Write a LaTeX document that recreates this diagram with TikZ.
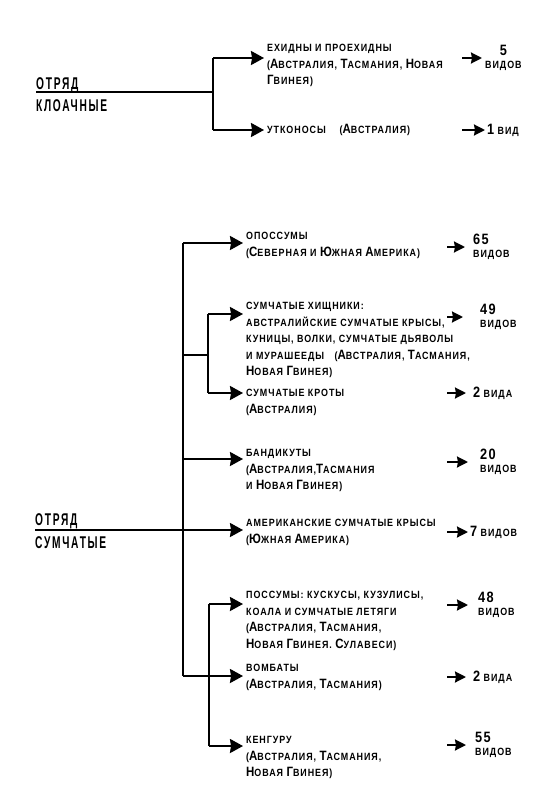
\documentclass[tikz,border=0pt]{standalone}
\usepackage{fontspec}
\setmainfont[FakeStretch=0.85,LetterSpace=9]{Liberation Sans}
\newfontfamily\ordfont[FakeStretch=0.6,LetterSpace=10]{Liberation Sans}
\usetikzlibrary{arrows.meta}

\newcommand\smc{\fontsize{10.5}{16.5}\selectfont\bfseries}
\newcommand\Bg[1]{{\fontsize{13.5}{16.5}\selectfont #1}}
\newcommand\Num[1]{{\fontsize{15}{16.5}\selectfont #1}}

\tikzset{
  ln/.style={line width=2pt},
  arr/.style={-{Stealth[length=13pt,width=14pt,inset=1pt]}, line width=2pt},
  sarr/.style={-{Stealth[length=11pt,width=11pt,inset=1pt]}, line width=2pt, shorten >=#1},
  sarr/.default=0pt,
  item/.style={anchor=north west, align=left, inner xsep=3pt, inner ysep=0pt, font=\smc},
  cnt/.style={anchor=west, align=left, inner sep=0pt, font=\smc},
  ord/.style={anchor=base west, inner sep=0pt, font=\ordfont\fontsize{17}{17}\selectfont\bfseries},
}

\begin{document}
\begin{tikzpicture}[x=1pt, y=-1pt]
  \useasboundingbox (0,0) rectangle (551,800);

  % order: monotremes
  \node[ord] (ok1) at (36,89)  {ОТРЯД};
  \node[ord] (ok2) at (36,111) {КЛОАЧНЫЕ};
  \coordinate (k0) at (36,92);
  \coordinate (k1) at (213,92);
  \coordinate (ka) at (213,58);
  \coordinate (kb) at (213,130);

  \node[item] (ech) at (264,44.2)
    {ЕХИДНЫ И ПРОЕХИДНЫ\\(\Bg{А}ВСТРАЛИЯ, \Bg{Т}АСМАНИЯ, \Bg{Н}ОВАЯ\\\Bg{Г}ВИНЕЯ)};
  \node[item, anchor=base west] (utk) at (264,133.5)
    {УТКОНОСЫ\quad\ (\Bg{А}ВСТРАЛИЯ)};

  \draw[ln] (k0) -- (k1);
  \draw[ln] (ka) -- (kb);
  \draw[arr] (ka) -- (ka -| ech.west);
  \draw[arr] (kb) -- (kb -| utk.west);

  \node[cnt, align=center] (c5) at (485,58) {\Num{5}\\[-3pt]ВИДОВ};
  \node[cnt] (c1) at (487,130) {\Num{1} ВИД};
  \coordinate (r5) at (462,58);
  \coordinate (r1) at (462,130);
  \draw[sarr=3pt] (r5) -- (r5 -| c5.west);
  \draw[sarr=2pt] (r1) -- (r1 -| c1.west);

  % order: marsupials
  \node[ord] (os1) at (35,525) {ОТРЯД};
  \node[ord] (os2) at (35,548) {СУМЧАТЫЕ};
  \coordinate (s0) at (35,530);
  \coordinate (m1) at (183,243);
  \coordinate (m2) at (183,355);
  \coordinate (m3) at (183,459);
  \coordinate (m5) at (183,676);
  \coordinate (u1) at (208,314);
  \coordinate (u2) at (208,393);
  \coordinate (l1) at (209,604);
  \coordinate (l2) at (209,746);

  \node[item] (opo)  at (243,232.2)
    {ОПОССУМЫ\\(\Bg{С}ЕВЕРНАЯ И \Bg{Ю}ЖНАЯ \Bg{А}МЕРИКА)};
  \node[item] (hish) at (243,302.2)
    {СУМЧАТЫЕ ХИЩНИКИ:\\АВСТРАЛИЙСКИЕ СУМЧАТЫЕ КРЫСЫ,\\КУНИЦЫ, ВОЛКИ, СУМЧАТЫЕ ДЬЯВОЛЫ\\И МУРАШЕЕДЫ\quad (\Bg{А}ВСТРАЛИЯ, \Bg{Т}АСМАНИЯ,\\\Bg{Н}ОВАЯ \Bg{Г}ВИНЕЯ)};
  \node[item] (krot) at (243,389.2)
    {СУМЧАТЫЕ КРОТЫ\\(\Bg{А}ВСТРАЛИЯ)};
  \node[item] (band) at (243,449.2)
    {БАНДИКУТЫ\\(\Bg{А}ВСТРАЛИЯ,\Bg{Т}АСМАНИЯ\\И \Bg{Н}ОВАЯ \Bg{Г}ВИНЕЯ)};
  \node[item] (amer) at (243,519.2)
    {АМЕРИКАНСКИЕ СУМЧАТЫЕ КРЫСЫ\\(\Bg{Ю}ЖНАЯ \Bg{А}МЕРИКА)};
  \node[item] (poss) at (243,591.2)
    {ПОССУМЫ: КУСКУСЫ, КУЗУЛИСЫ,\\КОАЛА И СУМЧАТЫЕ ЛЕТЯГИ\\(\Bg{А}ВСТРАЛИЯ, \Bg{Т}АСМАНИЯ,\\\Bg{Н}ОВАЯ \Bg{Г}ВИНЕЯ. \Bg{С}УЛАВЕСИ)};
  \node[item] (vomb) at (243,664.2)
    {ВОМБАТЫ\\(\Bg{А}ВСТРАЛИЯ, \Bg{Т}АСМАНИЯ)};
  \node[item] (keng) at (243,736.2)
    {КЕНГУРУ\\(\Bg{А}ВСТРАЛИЯ, \Bg{Т}АСМАНИЯ,\\\Bg{Н}ОВАЯ \Bg{Г}ВИНЕЯ)};

  \draw[ln] (m1) -- (m5);
  \draw[ln] (u1) -- (u2);
  \draw[ln] (m2) -- (m2 -| u1);
  \draw[ln] (l1) -- (l2);
  \draw[arr] (m1) -- (m1 -| opo.west);
  \draw[arr] (u1) -- (u1 -| hish.west);
  \draw[arr] (u2) -- (u2 -| krot.west);
  \draw[arr] (m3) -- (m3 -| band.west);
  \draw[arr] (s0) -- (s0 -| amer.west);
  \draw[arr] (l1) -- (l1 -| poss.west);
  \draw[arr] (m5) -- (m5 -| vomb.west);
  \draw[arr] (l2) -- (l2 -| keng.west);

  % number of species
  \node[cnt] (c65) at (473,247) {\Num{65}\\[-3pt]ВИДОВ};
  \node[cnt] (c49) at (480,317) {\Num{49}\\[-3pt]ВИДОВ};
  \node[cnt] (c2a) at (473,393) {\Num{2} ВИДА};
  \node[cnt] (c20) at (480,462) {\Num{20}\\[-3pt]ВИДОВ};
  \node[cnt] (c7)  at (470,532) {\Num{7} ВИДОВ};
  \node[cnt] (c48) at (478,605) {\Num{48}\\[-3pt]ВИДОВ};
  \node[cnt] (c2b) at (473,677) {\Num{2} ВИДА};
  \node[cnt] (c55) at (475,745) {\Num{55}\\[-3pt]ВИДОВ};
  \coordinate (r65) at (447,247);
  \coordinate (r49) at (447,317);
  \coordinate (r2a) at (447,393);
  \coordinate (r20) at (447,462);
  \coordinate (r7)  at (447,532);
  \coordinate (r48) at (447,605);
  \coordinate (r2b) at (447,677);
  \coordinate (r55) at (447,745);
  \draw[sarr=8pt]  (r65) -- (r65 -| c65.west);
  \draw[sarr=17pt] (r49) -- (r49 -| c49.west);
  \draw[sarr=7pt]  (r2a) -- (r2a -| c2a.west);
  \draw[sarr=12pt] (r20) -- (r20 -| c20.west);
  \draw[sarr=2pt]  (r7)  -- (r7 -| c7.west);
  \draw[sarr=10pt] (r48) -- (r48 -| c48.west);
  \draw[sarr=7pt]  (r2b) -- (r2b -| c2b.west);
  \draw[sarr=9pt]  (r55) -- (r55 -| c55.west);
\end{tikzpicture}
\end{document}
